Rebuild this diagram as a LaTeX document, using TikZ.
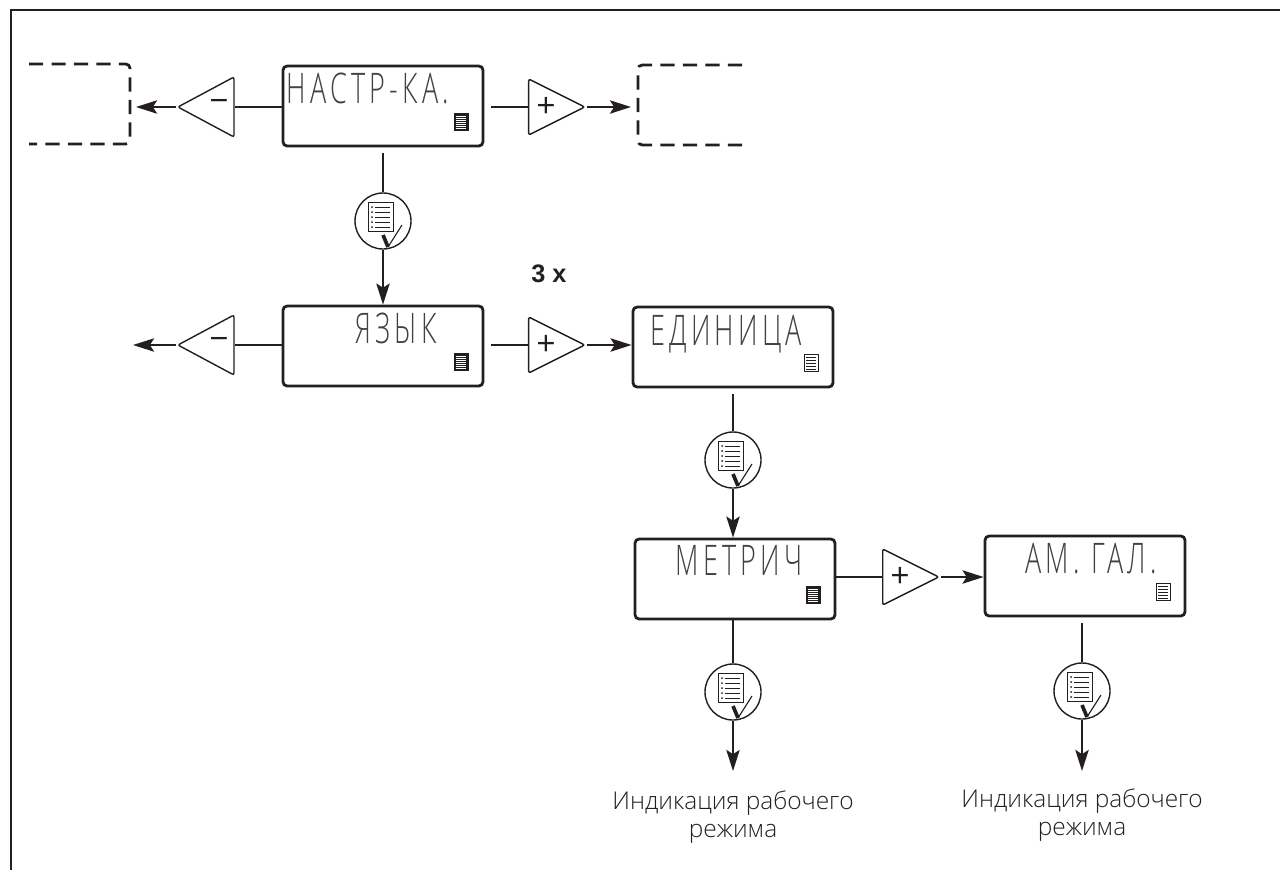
\documentclass[tikz,border=0pt]{standalone}
\usepackage{fontspec}
\setmainfont{Open Sans Light}
\newfontfamily\lcdfont[LetterSpace=10,FakeStretch=0.64]{Open Sans Light}
\newfontfamily\boldfont{Liberation Sans}
\newfontfamily\signfont{Open Sans}
\usetikzlibrary{positioning}
\usetikzlibrary{calc}
\usetikzlibrary{arrows.meta}
\usetikzlibrary{shapes.geometric}
\definecolor{ink}{RGB}{35,31,32}

\tikzset{
	display/.style={draw=ink,line width=2pt,rounded corners=3pt,minimum width=5cm,minimum height=2cm,inner sep=0pt},
	lcd/.style={font=\lcdfont\fontsize{30}{30}\selectfont,text=ink!85,inner sep=0pt,anchor=base},
	keyplus/.style={isosceles triangle,isosceles triangle stretches,shape border rotate=0,draw=ink,line width=1pt,rounded corners=1.5pt,minimum width=1.4cm,minimum height=1.4cm,inner sep=0pt},
	keyminus/.style={keyplus,shape border rotate=180,minimum width=1.5cm},
	keysign/.style={font=\signfont\fontsize{24}{24}\selectfont,text=ink,inner sep=0pt},
	okkey/.style={circle,draw=ink,line width=1pt,minimum size=1.4cm,inner sep=0pt},
	link/.style={draw=ink,line width=1.4pt},
	flow/.style={link,-{Stealth[length=15pt,width=9.5pt,inset=3pt]}},
	dashbox/.style={draw=ink,line width=2pt,dash pattern=on 10pt off 6pt,rounded corners=3pt},
	state/.style={align=center,text=ink,font=\fontsize{17.4}{20.5}\selectfont,inner sep=0pt}
}

% small menu symbol inside a display
\newcommand{\menusym}[5]{
	\node[draw=ink,fill=#2,line width=0.5pt,minimum width=0.35cm,minimum height=0.42cm,inner sep=0pt] (#5) at ($(#1.south east)+(-23,-25.5)$) {};
	\foreach \k in {#4}
		\draw[#3,line width=0.3pt] ($(#5)+(-5,\k)$) -- ($(#5)+(5,\k)$);
}

% paper and tick inside a round key
\newcommand{\oksym}[1]{
	\draw[ink,line width=0.7pt,fill=white] ($(#1)+(-15,-19)$) rectangle ($(#1)+(10,10)$);
	\foreach \k in {-14,-9,-4,1,6}
		\draw[ink,line width=0.6pt] ($(#1)+(-8,\k)$) -- ($(#1)+(7,\k)$);
	\foreach \k in {-14,-9,-4,1,6}
		\fill[ink] ($(#1)+(-11,\k)$) circle (1);
	\draw[ink,line width=2.6pt] ($(#1)+(0,14)$) -- ($(#1)+(5,26)$);
	\draw[ink,line width=0.8pt] ($(#1)+(5,26)$) -- ($(#1)+(19,4)$);
}

\begin{document}
\begin{tikzpicture}[x=0.025cm,y=-0.025cm]
	\useasboundingbox (0,0) rectangle (1280,870);

	\draw[ink,line width=1.8pt] (11,870) -- (11,10) -- (1280,10);

	% first row
	\node[display] (setup) at (383,106) {};
	\node[lcd] (setupt) at (368,103) {НАСТР-КА.};
	\menusym{setup}{ink}{white}{-6,-4,...,6}{setupm}
	\node[keyminus] (minus1) at (216,107) {};
	\node[keysign] (minus1t) at (219,106) {−};
	\node[keyplus] (plus1) at (546,107) {};
	\node[keysign] (plus1t) at (546,107) {+};
	\coordinate (prev) at (136,107);
	\coordinate (next) at (631,107);

	\draw[dashbox] (29,64) -- (130,64) -- (130,144) -- (29,144);
	\draw[dashbox] (742,65) -- (638,65) -- (638,145) -- (742,145);

	\draw[link] (setup.west |- minus1) -- (minus1.lower side);
	\draw[flow] (minus1.apex) -- (prev);
	\draw[link,shorten <=5] (setup.east |- plus1) -- (plus1.lower side);
	\draw[flow] (plus1.apex) -- (next);

	\node[okkey] (ok1) at (383,221) {};
	\oksym{ok1}
	\draw[link,shorten <=4] (setup.south) -- (ok1);

	% second row
	\node[font=\boldfont\bfseries\fontsize{18}{18}\selectfont,text=ink,inner sep=0pt] (times) at (549,274) {3 x};
	\node[display] (lang) at (383,346) {};
	\node[lcd] (langt) at (396,343) {ЯЗЫК};
	\menusym{lang}{ink}{white}{-6,-4,...,6}{langm}
	\node[keyminus] (minus2) at (216,345) {};
	\node[keysign] (minus2t) at (219,344) {−};
	\node[keyplus] (plus2) at (546,345) {};
	\node[keysign] (plus2t) at (546,345) {+};
	\coordinate (prevb) at (133,345);

	\draw[flow] (ok1) -- (lang);
	\draw[link] (lang.west |- minus2) -- (minus2.lower side);
	\draw[flow] (minus2.apex) -- (prevb);
	\draw[link,shorten <=5] (lang.east |- plus2) -- (plus2.lower side);

	\node[display] (unit) at (733,347) {};
	\node[lcd] (unitt) at (726,345) {ЕДИНИЦА};
	\menusym{unit}{white}{ink}{-6,-3,...,6}{unitm}
	\draw[flow] (plus2.apex) -- (plus2 -| unit.west);

	\node[okkey] (ok2) at (733,460) {};
	\oksym{ok2}
	\draw[link,shorten <=4] (unit.south) -- (ok2);

	% third row
	\node[display] (metric) at (735,579) {};
	\node[lcd] (metrict) at (739,575) {МЕТРИЧ};
	\menusym{metric}{ink}{white}{-6,-4,...,6}{metricm}
	\draw[flow] (ok2) -- (ok2 |- metric.north);
	\node[keyplus] (plus3) at (900,577) {};
	\node[keysign] (plus3t) at (900,577) {+};
	\draw[link] (metric.east |- plus3) -- (plus3.lower side);

	\node[display] (imperial) at (1085,576) {};
	\node[lcd] (imperialt) at (1091,573) {АМ. ГАЛ.};
	\menusym{imperial}{white}{ink}{-6,-3,...,6}{imperialm}
	\draw[flow] (plus3.apex) -- (plus3 -| imperial.west);

	% fourth row
	\node[okkey] (ok3) at (733,692) {};
	\oksym{ok3}
	\node[okkey] (ok4) at (1082,691) {};
	\oksym{ok4}
	\draw[link] (ok3 |- metric.south) -- (ok3);
	\draw[link,shorten <=4] (ok4 |- imperial.south) -- (ok4);

	\node[state] (run1) at (733,817) {Индикация рабочего\\режима};
	\node[state] (run2) at (1082,815) {Индикация рабочего\\режима};
	\coordinate (run1a) at (733,771);
	\coordinate (run2a) at (1082,771);
	\draw[flow] (ok3) -- (run1a);
	\draw[flow] (ok4) -- (run2a);
\end{tikzpicture}
\end{document}
